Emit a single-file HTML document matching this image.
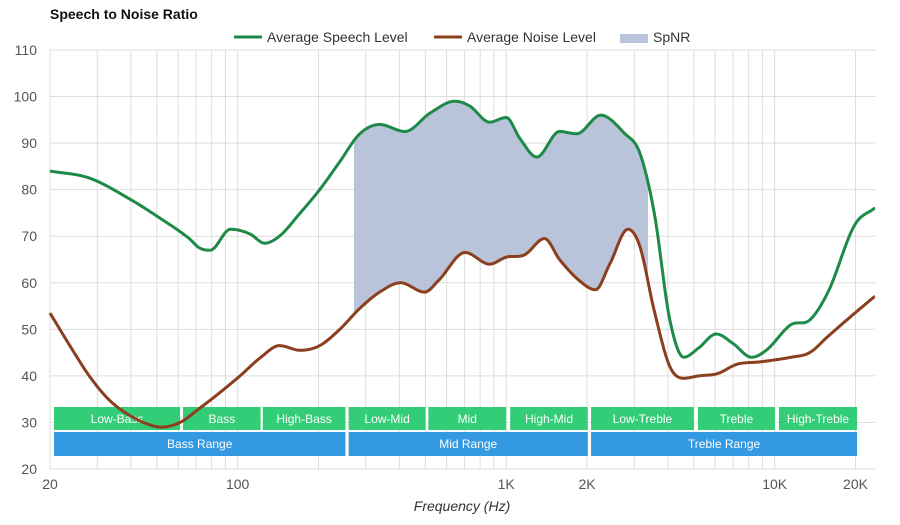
<!DOCTYPE html>
<html><head><meta charset="utf-8"><style>
body{margin:0;background:#fff;font-family:"Liberation Sans",Arial,sans-serif}
svg text{font-family:"Liberation Sans",Arial,sans-serif}
</style></head><body>
<svg id="c" width="900" height="520" xmlns="http://www.w3.org/2000/svg">
<rect width="900" height="520" fill="#fff"/>
<text x="50" y="19" font-size="14" font-weight="bold" fill="#111">Speech to Noise Ratio</text>
<g>
<line x1="234" y1="37" x2="262" y2="37" stroke="#1e8a48" stroke-width="3"/>
<text x="267" y="42" font-size="14" fill="#333">Average Speech Level</text>
<line x1="434" y1="37" x2="462" y2="37" stroke="#8b3f1f" stroke-width="3"/>
<text x="467" y="42" font-size="14" fill="#333">Average Noise Level</text>
<rect x="620" y="34" width="28" height="9" fill="#b9c4da"/>
<text x="653" y="42" font-size="14" fill="#333">SpNR</text>
</g>
<g id="grid"></g><g id="bands"></g><g id="plot"></g><g id="axes"></g>
<text x="462" y="511" font-size="14" font-style="italic" fill="#333" text-anchor="middle">Frequency (Hz)</text>
</svg>
<script>
const speechFreq=[20,28,39.6,51,66,72,79,94,111,126,143,171,202,240,285,338,420,522,644,730,868,1000,1125,1300,1580,1830,2250,2770,3140,3560,4070,4590,5210,6060,6980,8210,9300,11500,13500,15800,19900,23500];
const speechDb=[84,82.5,78,74,69.5,67.5,67,71.5,70.5,68.5,70,75,80,86,92,94,92.5,96.5,99,98,94.5,95.5,91,87,92.5,92,96,92,88,75,52,44,46,49,47,44,45.5,51,52,58,72.5,76];
const noiseFreq=[20,24,28,33,39.6,47,52,61,72,82,102,122,143,171,202,240,285,338,404,497,560,703,868,1000,1170,1390,1580,1870,2150,2430,2840,3140,3560,4070,4590,5210,6130,7240,8770,11500,13500,15800,19900,23500];
const noiseDb=[53.5,46,40,35,31.5,29.5,29,30,33,35.5,40,44,46.5,45.5,46.5,50,54.5,58,60,58,60.5,66.5,64,65.5,66,69.5,65,60.5,58.5,64,71.5,68,54,42,39.5,40,40.5,42.5,43,44,45,48.5,53.5,57];
const spnrRange=[271,3400];
const yTicks=[20,30,40,50,60,70,80,90,100,110];
const xLabels=[[20,"20"],[100,"100"],[1000,"1K"],[2000,"2K"],[10000,"10K"],[20000,"20K"]];
const bandNames=[["Low-Bass",20.7,61],["Bass",62.6,121.7],["High-Bass",124,252],["Low-Mid",259,501],["Mid",513,1000],["High-Mid",1035,2014],["Low-Treble",2071,5000],["Treble",5177,10020],["High-Treble",10370,20270]];
const rangeNames=[["Bass Range",20.7,252],["Mid Range",259,2014],["Treble Range",2071,20270]];
const L=50,R=875,T=50,B=469,DEC=268.5;
const X=f=>L+(Math.log10(f)-Math.log10(20))*DEC;
const Y=v=>B-(v-20)*(B-T)/90;
const NS="http://www.w3.org/2000/svg";
function mk(p,t,a){const e=document.createElementNS(NS,t);for(const k in a)e.setAttribute(k,a[k]);p.appendChild(e);return e;}
const grid=document.getElementById('grid'),axes=document.getElementById('axes'),plot=document.getElementById('plot'),bands=document.getElementById('bands');
yTicks.forEach(v=>{const l=mk(grid,'line',{x1:L,x2:R,y1:Y(v),y2:Y(v),stroke:'#ddd','stroke-width':1});

const t=mk(axes,'text',{x:37,y:Y(v)+5,'font-size':14,fill:'#555','text-anchor':'end'});t.textContent=v;
});
for(let d=10;d<=10000;d*=10)for(let m=1;m<10;m++){const f=d*m;if(f<20||f>23500)continue;
const l=mk(grid,'line',{x1:X(f),x2:X(f),y1:T,y2:B,stroke:'#ddd','stroke-width':1});
}
xLabels.forEach(([f,s])=>{const t=mk(axes,'text',{x:X(f),y:489,'font-size':14,fill:'#555','text-anchor':'middle'});t.textContent=s;
});
function interp(fs,vs){const xs=fs.map(f=>Math.log10(f)),n=xs.length,d=[],m=[];
for(let i=0;i<n-1;i++)d.push((vs[i+1]-vs[i])/(xs[i+1]-xs[i]));
for(let i=0;i<n;i++){if(i==0)m.push(d[0]);else if(i==n-1)m.push(d[n-2]);else m.push(d[i-1]*d[i]<=0?0:(d[i-1]+d[i])/2);}
return f=>{const x=Math.log10(f);let i=0;while(i<n-2&&x>xs[i+1])i++;const h=xs[i+1]-xs[i],t=Math.max(0,Math.min(1,(x-xs[i])/h));
const t2=t*t,t3=t2*t;return(2*t3-3*t2+1)*vs[i]+(t3-2*t2+t)*h*m[i]+(-2*t3+3*t2)*vs[i+1]+(t3-t2)*h*m[i+1];};}
const sp=interp(speechFreq,speechDb),no=interp(noiseFreq,noiseDb);
const fx=x=>20*Math.pow(10,(x-L)/DEC);
let upperPts=[],lowerPts=[];for(let x=X(spnrRange[0]);x<=X(spnrRange[1]);x+=1){const f=fx(x);upperPts.push(x+','+Y(sp(f)));lowerPts.unshift(x+','+Y(no(f)));}
const area=mk(plot,'polygon',{points:upperPts.concat(lowerPts).join(' '),fill:'#b9c4da'});

function line(fn,col,name){let p=[];for(let x=L;x<=R;x+=1)p.push((p.length?'L':'M')+x+','+Y(fn(fx(x))).toFixed(2));
const e=mk(plot,'path',{d:p.join(''),fill:'none',stroke:col,'stroke-width':3});}
line(sp,'#1e8a48','speech-line');line(no,'#8b3f1f','noise-line');
function band(arr,y,h,col,nm){arr.forEach(([s,a,b])=>{const x1=X(a),x2=X(b);
const r=mk(bands,'rect',{x:x1,y:y,width:x2-x1,height:h,fill:col});
const t=mk(bands,'text',{x:(x1+x2)/2,y:y+16,'font-size':12,fill:'#fff','text-anchor':'middle'});t.textContent=s;
});}
band(bandNames,407,23,'#33cc77','band');band(rangeNames,432,24,'#3399e0','range-band');
</script>
</body></html>
